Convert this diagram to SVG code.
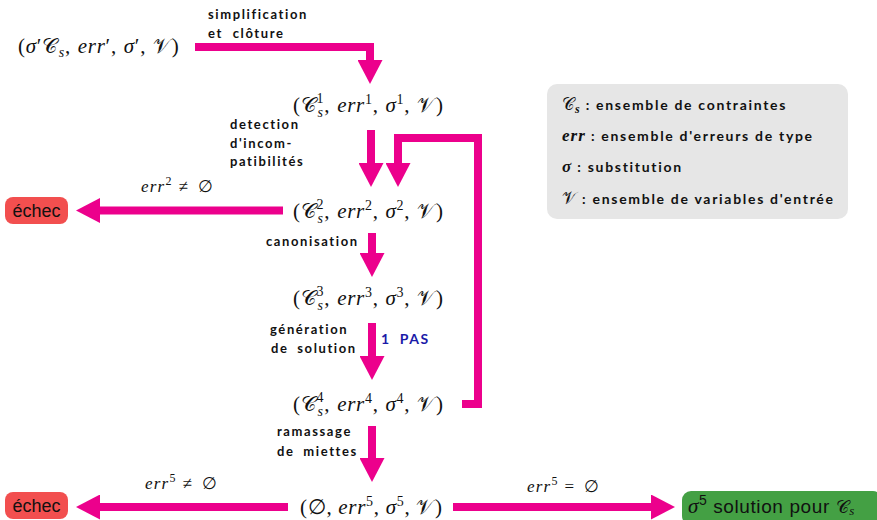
<svg xmlns="http://www.w3.org/2000/svg" width="877" height="520" viewBox="0 0 877 520">
<style>
.m{font-family:"Liberation Serif","DejaVu Serif",serif;font-size:21px;letter-spacing:0.7px;fill:#111}
.i{font-style:italic}
.cal{font-family:"DejaVu Serif","DejaVu Sans",serif;font-style:normal;font-weight:normal}
.sm{font-size:14px}
.lab{font-family:Lato,"DejaVu Sans",sans-serif;font-weight:bold;font-size:13px;letter-spacing:1.6px;fill:#111}
.leg{font-family:Lato,"DejaVu Sans",sans-serif;font-weight:bold;font-size:14px;letter-spacing:1.7px;fill:#111}
.lm{font-family:"Liberation Serif","DejaVu Serif",serif;font-size:17px;letter-spacing:1px}
.box{font-family:"Liberation Sans","DejaVu Sans",sans-serif;font-size:18px;fill:#111}
.ar{fill:none;stroke:#ec008c;stroke-width:8;stroke-linejoin:miter}
.blue{font-family:Lato,"DejaVu Sans",sans-serif;font-weight:bold;font-size:14px;letter-spacing:1.6px;fill:#1a1aa8}
.el{font-family:"Liberation Serif","DejaVu Serif",serif;font-size:17px;letter-spacing:1.2px;fill:#111}
</style>
<defs>
<marker id="h" viewBox="0 0 24 25" refX="1" refY="12.5" markerWidth="24" markerHeight="25" markerUnits="userSpaceOnUse" orient="auto">
<path d="M0,0 L24,12.5 L0,25 z" fill="#ec008c"/>
</marker>
</defs>

<g id="legend">
<rect x="547" y="84" width="301" height="135" rx="10" fill="#e6e6e6"/>
<text x="562" y="110" class="leg"><tspan class="lm cal">𝒞</tspan><tspan class="lm i" style="font-size:12px" dy="3">s</tspan><tspan dy="-3" dx="5">: ensemble de contraintes</tspan></text>
<text x="562" y="141" class="leg"><tspan class="lm i">err</tspan> : ensemble d'erreurs de type</text>
<text x="562" y="172" class="leg"><tspan class="lm i">σ</tspan> : substitution</text>
<text x="562" y="204" class="leg"><tspan class="lm cal">𝒱</tspan> : ensemble de variables d'entrée</text>
</g>

<g id="connectors">
<path class="ar" d="M195,47 H370 V61" marker-end="url(#h)"/>
<path class="ar" d="M371,130 V164" marker-end="url(#h)"/>
<path class="ar" d="M462,404 H478 V138 H398 V164" marker-end="url(#h)"/>
<path class="ar" d="M372,233 V254" marker-end="url(#h)"/>
<path class="ar" d="M372,323 V357" marker-end="url(#h)"/>
<path class="ar" d="M372,426 V459" marker-end="url(#h)"/>
<path class="ar" d="M283,210.5 H99" marker-end="url(#h)"/>
<path class="ar" d="M288,507 H99" marker-end="url(#h)"/>
<path class="ar" d="M453,507 H652" marker-end="url(#h)"/>
</g>

<g id="labels">
<text x="208" y="19" class="lab">simplification</text>
<text x="208" y="38" class="lab">et <tspan dx="5">clôture</tspan></text>
<text x="230" y="129" class="lab">detection</text>
<text x="230" y="148" class="lab">d'incom-</text>
<text x="230" y="166" class="lab">patibilités</text>
<text x="266" y="246" class="lab">canonisation</text>
<text x="270" y="334" class="lab">génération</text>
<text x="271" y="353" class="lab">de <tspan dx="4">solution</tspan></text>
<text x="381" y="344" class="blue">1 <tspan dx="4">PAS</tspan></text>
<text x="277" y="436" class="lab">ramassage</text>
<text x="277" y="456" class="lab">de <tspan dx="4">miettes</tspan></text>
<text x="141" y="192" class="el"><tspan class="i">err</tspan><tspan style="font-size:12px" dy="-7">2</tspan><tspan dy="7" dx="6">≠ <tspan dx="3">∅</tspan></tspan></text>
<text x="145" y="489" class="el"><tspan class="i">err</tspan><tspan style="font-size:12px" dy="-7">5</tspan><tspan dy="7" dx="6">≠ <tspan dx="3">∅</tspan></tspan></text>
<text x="527" y="492" class="el"><tspan class="i">err</tspan><tspan style="font-size:12px" dy="-7">5</tspan><tspan dy="7" dx="6">= <tspan dx="3">∅</tspan></tspan></text>
</g>

<g id="n0">
<text x="18" y="53" class="m">(<tspan class="i">σ</tspan>′<tspan class="cal">𝒞</tspan><tspan class="i sm" dx="1" dy="4">s</tspan><tspan dy="-4">, </tspan><tspan class="i" dx="1">err</tspan>′, <tspan class="i" dx="1">σ</tspan>′, <tspan class="cal" dx="1">𝒱</tspan>)</text>
</g>
<g id="n1">
<text x="293" y="112" class="m">(<tspan class="cal">𝒞</tspan><tspan class="i sm" dx="1" dy="5">s</tspan><tspan class="sm" dx="-7" dy="-14">1</tspan><tspan dy="9">, </tspan><tspan class="i" dx="1">err</tspan><tspan class="sm" dy="-8">1</tspan><tspan dy="8">, </tspan><tspan class="i" dx="1">σ</tspan><tspan class="sm" dy="-8">1</tspan><tspan dy="8">, </tspan><tspan class="cal" dx="1">𝒱</tspan>)</text>
</g>
<g id="n2">
<text x="293" y="218" class="m">(<tspan class="cal">𝒞</tspan><tspan class="i sm" dx="1" dy="5">s</tspan><tspan class="sm" dx="-7" dy="-14">2</tspan><tspan dy="9">, </tspan><tspan class="i" dx="1">err</tspan><tspan class="sm" dy="-8">2</tspan><tspan dy="8">, </tspan><tspan class="i" dx="1">σ</tspan><tspan class="sm" dy="-8">2</tspan><tspan dy="8">, </tspan><tspan class="cal" dx="1">𝒱</tspan>)</text>
</g>
<g id="n3">
<text x="293" y="305" class="m">(<tspan class="cal">𝒞</tspan><tspan class="i sm" dx="1" dy="5">s</tspan><tspan class="sm" dx="-7" dy="-14">3</tspan><tspan dy="9">, </tspan><tspan class="i" dx="1">err</tspan><tspan class="sm" dy="-8">3</tspan><tspan dy="8">, </tspan><tspan class="i" dx="1">σ</tspan><tspan class="sm" dy="-8">3</tspan><tspan dy="8">, </tspan><tspan class="cal" dx="1">𝒱</tspan>)</text>
</g>
<g id="n4">
<text x="293" y="411" class="m">(<tspan class="cal">𝒞</tspan><tspan class="i sm" dx="1" dy="5">s</tspan><tspan class="sm" dx="-7" dy="-14">4</tspan><tspan dy="9">, </tspan><tspan class="i" dx="1">err</tspan><tspan class="sm" dy="-8">4</tspan><tspan dy="8">, </tspan><tspan class="i" dx="1">σ</tspan><tspan class="sm" dy="-8">4</tspan><tspan dy="8">, </tspan><tspan class="cal" dx="1">𝒱</tspan>)</text>
</g>
<g id="n5">
<text x="300" y="514" class="m">(∅, <tspan class="i">err</tspan><tspan class="sm" dy="-8">5</tspan><tspan dy="8">, </tspan><tspan class="i">σ</tspan><tspan class="sm" dy="-8">5</tspan><tspan dy="8">, </tspan><tspan class="cal">𝒱</tspan>)</text>
</g>
<g id="fail1">
<rect x="5" y="197" width="63" height="27" rx="8" fill="#f24f4f"/>
<text x="36.5" y="217" class="box" text-anchor="middle">échec</text>
</g>
<g id="fail2">
<rect x="5" y="492" width="63" height="27" rx="8" fill="#f24f4f"/>
<text x="36.5" y="512" class="box" text-anchor="middle">échec</text>
</g>
<g id="success">
<rect x="682" y="491" width="200" height="34" rx="9" fill="#44a044"/>
<text x="688" y="513" class="box" style="font-size:19px;letter-spacing:0.6px"><tspan class="i" style="font-family:'Liberation Serif',serif;font-size:21px">σ</tspan><tspan style="font-size:14px" dy="-8">5</tspan><tspan dy="8"> solution pour </tspan><tspan class="cal" style="font-size:18px">𝒞</tspan><tspan class="i" style="font-family:'Liberation Serif',serif;font-size:13px" dy="2">s</tspan></text>
</g>
</svg>
